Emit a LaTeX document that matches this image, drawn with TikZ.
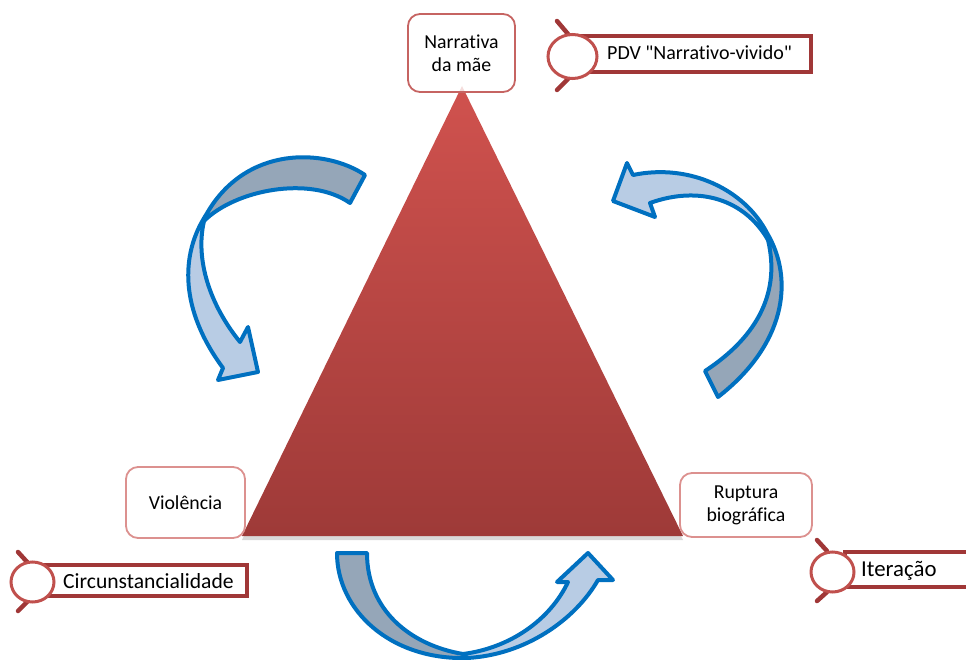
\documentclass[tikz,border=0pt]{standalone}
\usepackage{fontspec}
\setmainfont{Carlito}[Ligatures={TeXOff,CommonOff}]
\usetikzlibrary{shadows}
\definecolor{triTop}{RGB}{208,82,78}
\definecolor{triBot}{RGB}{158,58,56}
\definecolor{boxRed}{RGB}{198,100,98}
\definecolor{boxPink}{RGB}{220,145,143}
\definecolor{lblRed}{RGB}{160,55,55}
\definecolor{cirRed}{RGB}{192,80,77}
\definecolor{arrBlue}{RGB}{0,112,192}
\definecolor{arrDark}{RGB}{149,166,184}
\definecolor{arrLight}{RGB}{184,204,228}
\begin{document}
\begin{tikzpicture}[x=1pt,y=-1pt,
  txt/.style={font=\fontsize{19.8}{23}\selectfont, text=black},
  conceptbox/.style={txt, draw=boxRed, line width=1.8pt, rounded corners=12pt, fill=white, align=center, inner sep=0pt},
  arrowdark/.style={draw=arrBlue, fill=arrDark, line width=4pt, line join=round},
  arrowlight/.style={draw=arrBlue, fill=arrLight, line width=4pt, line join=round},
  lblrect/.style={draw=lblRed, line width=3.5pt, fill=white},
  lblcirc/.style={draw=cirRed, line width=3pt, fill=white},
  lbltick/.style={draw=lblRed, line width=4.5pt, line cap=round},
  lbltext/.style={text=black, anchor=base west, inner sep=0pt}
]
\useasboundingbox (0,0) rectangle (966,660);
\clip (0,0) rectangle (966,660);

% curved arrows
\path[arrowdark] (365,175) .. controls (325,148) and (245,145) .. (206,215) -- (204,221) .. controls (235,190) and (310,175) .. (350,203) -- cycle;
\path[arrowlight] (206,215) .. controls (180,255) and (180,310) .. (223,368) -- (218,380) -- (258,372) -- (248,327) -- (240,342) .. controls (210,305) and (195,260) .. (204,221) -- cycle;

\path[arrowdark] (767,233) .. controls (795,280) and (785,345) .. (718,397) -- (705,371) .. controls (760,335) and (780,290) .. (768,240) -- cycle;
\path[arrowlight] (633,175) .. controls (690,163) and (745,190) .. (767,233) -- (768,240) .. controls (745,200) and (700,185) .. (650,203) -- (655,217) -- (613,201) -- (627,163) -- cycle;

\path[arrowdark] (337,553) .. controls (337,610) and (390,660) .. (467,658) -- (463,654) .. controls (410,645) and (367,610) .. (367,553) -- cycle;
\path[arrowlight] (467,658) .. controls (525,655) and (575,620) .. (598,580) -- (613,580) -- (588,553) -- (557,582) -- (568,582) .. controls (550,620) and (510,648) .. (463,654) -- cycle;

% triangle
\coordinate (apex) at (462,86);
\coordinate (bl) at (242,536);
\coordinate (br) at (683,536);
\path[top color=triTop, bottom color=triBot, drop shadow={opacity=0.3, shadow xshift=0pt, shadow yshift=-4pt}] (apex) -- (br) -- (bl) -- cycle;

% concept boxes
\node[conceptbox, minimum width=107pt, minimum height=78pt, fill opacity=0.8, text opacity=1] (mae) at (461.5,53) {Narrativa\\da mãe};
\node[conceptbox, draw=boxPink, minimum width=119pt, minimum height=71pt] (viol) at (185.5,502.5) {Violência};
\node[conceptbox, draw=boxPink, minimum width=132pt, minimum height=64pt] (rupt) at (746,505) {Ruptura\\biográfica};

% label PDV
\coordinate (c1) at (572.5,56.5);
\draw[lblrect] (575,36) rectangle (811,72);
\draw[lbltick] (557,21) -- (568,34);
\draw[lbltick] (568,79) -- (557,90);
\draw[lblcirc] (c1) ellipse [x radius=24.5, y radius=22];
\node[lbltext, font=\fontsize{20}{24}\selectfont] (l1) at (607,59.5) {PDV "Narrativo-vivido"};

% label Circunstancialidade
\coordinate (c2) at (32.5,582);
\draw[lblrect] (45,565) rectangle (247,596);
\draw[lbltick] (18,552) -- (28,563);
\draw[lbltick] (28,601) -- (18,611);
\draw[lblcirc] (c2) ellipse [x radius=21.5, y radius=20];
\node[lbltext, font=\fontsize{21.6}{26}\selectfont] (l2) at (63,588.3) {Circunstancialidade};

% label Iteracao
\coordinate (c3) at (832.5,572);
\draw[lblrect] (845,552) rectangle (975,587);
\draw[lbltick] (817,540) -- (827,551);
\draw[lbltick] (827,592) -- (817,601);
\draw[lblcirc] (c3) ellipse [x radius=21.5, y radius=20];
\node[lbltext, font=\fontsize{22.8}{27}\selectfont] (l3) at (861,576.7) {Iteração};
\end{tikzpicture}
\end{document}
